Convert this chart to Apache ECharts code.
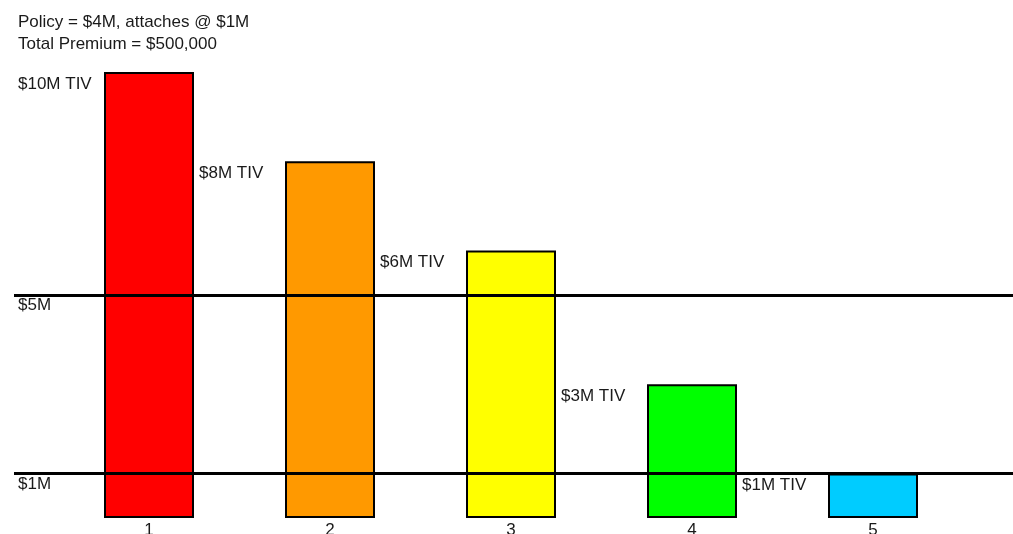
<!DOCTYPE html>
<html>
<head>
<meta charset="utf-8">
<title>Policy layer vs TIV</title>
<script src="https://cdn.jsdelivr.net/npm/echarts@6/dist/echarts.min.js"></script>
<style>
  html, body { margin: 0; padding: 0; background: #ffffff; }
  #chart { width: 1013px; height: 534px; }
</style>
</head>
<body>
<div id="chart"></div>
<script>
// Locations and their total insured value, in $M
const categories = ['1', '2', '3', '4', '5'];
const tivValues = [10, 8, 6, 3, 1];
const barColors = ['#ff0000', '#ff9900', '#ffff00', '#00ff00', '#00ccff'];

// Policy layer boundaries, in $M
const layerLevels = [5, 1];
const layerLabels = ['$5M', '$1M'];

const headerLines = ['Policy = $4M, attaches @ $1M', 'Total Premium = $500,000'];

const FONT = '"Liberation Sans", Arial, sans-serif';
const FS = 17;
const chart = echarts.init(document.getElementById('chart'), null, { renderer: 'canvas' });

chart.setOption({
  animation: false,
  backgroundColor: '#ffffff',
  title: {
    text: headerLines.join('\n'),
    left: 13,
    top: 6,
    textStyle: { fontFamily: FONT, fontSize: FS, fontWeight: 'normal', color: '#1a1a1a', lineHeight: 22 }
  },
  grid: [
    { left: 58.5, right: 49.5, top: 72, bottom: 16, outerBoundsMode: 'none', containLabel: false },
    { left: 14, right: 0, top: 72, bottom: 16, outerBoundsMode: 'none', containLabel: false }
  ],
  xAxis: [
    {
      type: 'category',
      gridIndex: 0,
      data: categories,
      axisLine: { show: false },
      axisTick: { show: false },
      axisLabel: { fontFamily: FONT, fontSize: FS, color: '#1a1a1a', margin: 4 }
    },
    { type: 'value', gridIndex: 1, min: 0, max: 1, show: false }
  ],
  yAxis: [
    { type: 'value', gridIndex: 0, min: 0, max: 10, show: false },
    { type: 'value', gridIndex: 1, min: 0, max: 10, show: false }
  ],
  series: [
    {
      type: 'bar',
      xAxisIndex: 0,
      yAxisIndex: 0,
      data: tivValues,
      barWidth: 90,
      z: 2,
      itemStyle: {
        color: (p) => barColors[p.dataIndex],
        borderColor: '#000000',
        borderWidth: 2
      },
      label: {
        show: true,
        position: [-86, 12],
        align: 'left',
        verticalAlign: 'middle',
        fontFamily: FONT,
        fontSize: FS,
        color: '#1a1a1a',
        formatter: (p) => '$' + p.value + 'M TIV'
      }
    },
    {
      type: 'line',
      xAxisIndex: 1,
      yAxisIndex: 1,
      data: [],
      z: 5,
      markLine: {
        silent: true,
        symbol: 'none',
        animation: false,
        lineStyle: { color: '#000000', width: 3, type: 'solid' },
        label: {
          show: true,
          position: 'insideStartBottom',
          distance: [4, 2],
          fontFamily: FONT,
          fontSize: FS,
          color: '#1a1a1a',
          formatter: (p) => layerLabels[layerLevels.indexOf(p.value)]
        },
        data: layerLevels.map((v) => ({ yAxis: v }))
      }
    }
  ]
});
</script>
</body>
</html>
